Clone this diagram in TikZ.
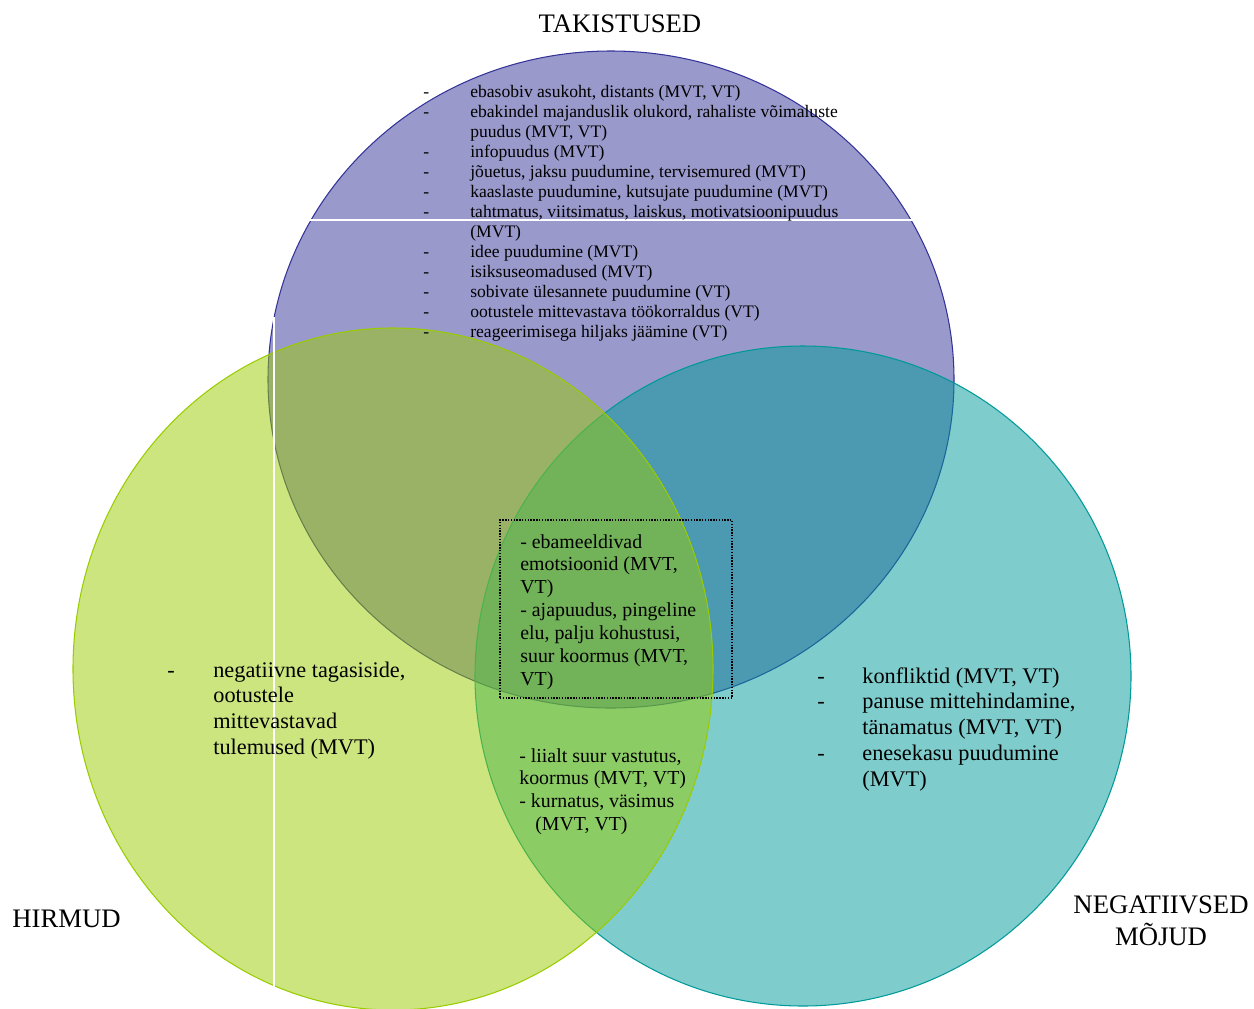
\documentclass[tikz,border=0pt]{standalone}
\usepackage{fontspec}
\setmainfont{Liberation Serif}
\usepackage{tikz}
\usepackage{color}
\definecolor{takblue}{HTML}{333399}
\definecolor{hirgreen}{HTML}{99CC00}
\definecolor{mojteal}{HTML}{009999}
\tikzset{
	ring/.style={line width=0.6pt,fill opacity=0.5},
	seam/.style={white,line width=0.8pt},
	listtext/.style={inner sep=0pt,anchor=base west},
	smalltext/.style={listtext,font=\fontsize{10}{11.4}\selectfont},
	midtext/.style={listtext,font=\fontsize{11.3}{13}\selectfont},
	bigtext/.style={listtext,font=\fontsize{12.7}{14.7}\selectfont},
	setname/.style={inner sep=0pt,anchor=base,align=center,font=\fontsize{15.2}{18.1}\selectfont},
	corebox/.style={draw=black,line width=0.8pt,dash pattern=on 0.8pt off 0.8pt,minimum width=4.64cm,minimum height=3.56cm,inner sep=0pt}
}

\begin{document}
\begin{tikzpicture}[x=0.02cm,y=-0.02cm]
			\useasboundingbox (0,0) rectangle (1254,1008);
			\draw[ring,draw=takblue,fill=takblue] (611,379.5) ellipse (343 and 328.5);
			\draw[ring,draw=mojteal,fill=mojteal] (803,676) ellipse (328 and 330);
			\draw[ring,draw=hirgreen,fill=hirgreen] (393,669) ellipse (320 and 341);
			\draw[seam] (268,220) -- (954,220);
			\draw[seam] (274,317) -- (274,1008);
			\node[setname] (tak) at (620,32) {TAKISTUSED};
			\node[setname] (hir) at (66.5,927) {HIRMUD};
			\node[setname] (moj) at (1161,945) {NEGATIIVSED\\MÕJUD};
			\node[smalltext] (taklist) at (423,97) {\begin{tabular}[t]{@{}p{0.94cm}@{}l@{}}
				- & ebasobiv asukoht, distants (MVT, VT)\\
				- & ebakindel majanduslik olukord, rahaliste võimaluste\\
				  & puudus (MVT, VT)\\
				- & infopuudus (MVT)\\
				- & jõuetus, jaksu puudumine, tervisemured (MVT)\\
				- & kaaslaste puudumine, kutsujate puudumine (MVT)\\
				- & tahtmatus, viitsimatus, laiskus, motivatsioonipuudus\\
				  & (MVT)\\
				- & idee puudumine (MVT)\\
				- & isiksuseomadused (MVT)\\
				- & sobivate ülesannete puudumine (VT)\\
				- & ootustele mittevastava töökorraldus (VT)\\
				- & reageerimisega hiljaks jäämine (VT)
			\end{tabular}};
			\node[corebox] (core) at (616,609) {};
			\node[midtext] (corelist) at (520,548) {\begin{tabular}[t]{@{}l@{}}
				- ebameeldivad\\
				emotsioonid (MVT,\\
				VT)\\
				- ajapuudus, pingeline\\
				elu, palju kohustusi,\\
				suur koormus (MVT,\\
				VT)
			\end{tabular}};
			\node[midtext] (hirmojlist) at (519,762) {\begin{tabular}[t]{@{}l@{}}
				- liialt suur vastutus,\\
				koormus (MVT, VT)\\
				- kurnatus, väsimus\\
				\hspace{0.32cm}(MVT, VT)
			\end{tabular}};
			\node[bigtext] (hirlist) at (167,677) {\begin{tabular}[t]{@{}p{0.92cm}@{}l@{}}
				- & negatiivne tagasiside,\\
				  & ootustele\\
				  & mittevastavad\\
				  & tulemused (MVT)
			\end{tabular}};
			\node[bigtext] (mojlist) at (817,683) {\begin{tabular}[t]{@{}p{0.9cm}@{}l@{}}
				- & konfliktid (MVT, VT)\\
				- & panuse mittehindamine,\\
				  & tänamatus (MVT, VT)\\
				- & enesekasu puudumine\\
				  & (MVT)
			\end{tabular}};
		\end{tikzpicture}
\end{document}
